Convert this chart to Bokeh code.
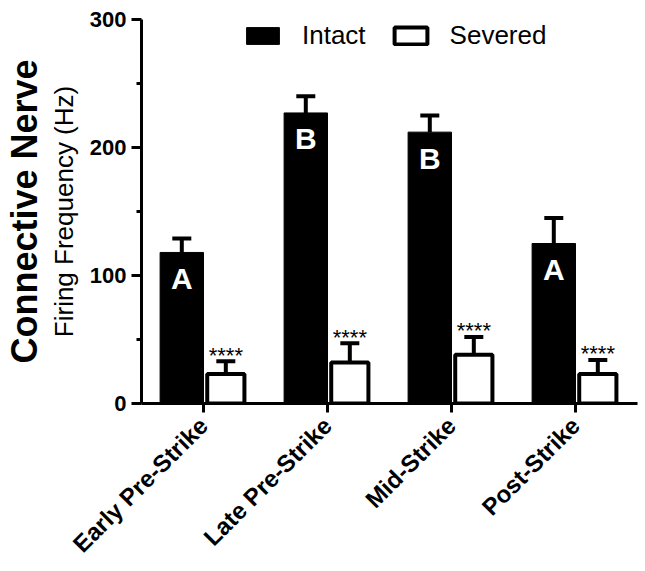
import math
from bokeh.plotting import figure
from bokeh.models import (FactorRange, Range1d, Whisker, TeeHead, ColumnDataSource,
                          Legend, LegendItem, Title, FixedTicker)
from bokeh.transform import dodge
from bokeh.core.properties import value
from bokeh.embed import file_html
from bokeh.resources import INLINE

# ---- data ----
phases = ["Early Pre-Strike", "Late Pre-Strike", "Mid-Strike", "Post-Strike"]
intact = [118, 227, 212, 125]
intact_err = [11, 13, 13, 20]
severed = [23, 32, 38, 23]
severed_err = [10, 15, 14, 11]
letters = ["A", "B", "B", "A"]
stars = ["****", "****", "****", "****"]
y_ticks = [0, 100, 200, 300]
y_minor = [50, 150, 250]

FONT = "Liberation Sans"

src = ColumnDataSource(dict(
    phase=phases,
    intact=intact,
    intact_hi=[a + b for a, b in zip(intact, intact_err)],
    severed=severed,
    severed_hi=[a + b for a, b in zip(severed, severed_err)],
    letters=letters,
    stars=stars,
))

p = figure(x_range=FactorRange(*phases, range_padding=0), y_range=Range1d(0, 300),
           width=645, height=571, output_backend="svg", toolbar_location=None,
           min_border_left=138, min_border_right=8, min_border_top=19, min_border_bottom=168)

X_I = dodge("phase", -0.175, range=p.x_range)
X_S = dodge("phase", 0.18, range=p.x_range)

r_int = p.vbar(x=X_I, top="intact", width=0.35, source=src,
               fill_color="black", line_color="black", line_width=1)
r_sev = p.vbar(x=X_S, top="severed", width=0.30, source=src,
               fill_color="white", line_color="black", line_width=4)

for base, lo, hi in ((X_I, "intact", "intact_hi"), (X_S, "severed", "severed_hi")):
    w = Whisker(base=base, lower=lo, upper=hi, source=src, dimension="height",
                line_width=4, line_color="black", level="annotation",
                upper_head=TeeHead(size=19, line_width=4, line_color="black"),
                lower_head=None)
    p.add_layout(w)

p.text(x=X_I, y="intact", text="letters", source=src, y_offset=26,
       text_align="center", text_baseline="middle", text_color="white",
       text_font=value(FONT), text_font_style="bold", text_font_size="30px")
p.text(x=X_S, y="severed_hi", text="stars", source=src, y_offset=-6,
       text_align="center", text_baseline="alphabetic", text_color="black",
       text_font=value(FONT), text_font_size="22px")

# axes
p.xgrid.visible = False
p.ygrid.visible = False
p.outline_line_color = None

ya = p.yaxis[0]
ya.ticker = FixedTicker(ticks=y_ticks, minor_ticks=y_minor)
ya.axis_line_width = 3
ya.major_tick_line_width = 3
ya.minor_tick_line_width = 3
ya.major_tick_out = 10
ya.major_tick_in = 0
ya.minor_tick_out = 5
ya.minor_tick_in = 0
ya.major_label_standoff = 5
ya.major_label_text_font = FONT
ya.major_label_text_font_style = "bold"
ya.major_label_text_font_size = "22px"
ya.major_label_text_color = "black"
ya.axis_label = "Firing Frequency (Hz)"
ya.axis_label_text_font = FONT
ya.axis_label_text_font_style = "normal"
ya.axis_label_text_font_size = "26px"
ya.axis_label_text_color = "black"
ya.axis_label_standoff = 8

xa = p.xaxis[0]
xa.axis_line_width = 3
xa.major_tick_line_width = 3
xa.major_tick_out = 9
xa.major_tick_in = 0
xa.minor_tick_line_color = None
xa.major_label_orientation = math.pi / 4
xa.major_label_standoff = 9
xa.major_label_text_font = FONT
xa.major_label_text_font_style = "bold"
xa.major_label_text_font_size = "24px"
xa.major_label_text_color = "black"

p.add_layout(Title(text="Connective Nerve", align="center", text_font=FONT,
                   text_font_style="bold", text_font_size="36px",
                   text_color="black", standoff=2), "left")

legend = Legend(items=[LegendItem(label="Intact", renderers=[r_int]),
                       LegendItem(label="Severed", renderers=[r_sev])],
                orientation="horizontal", location=(101, 352),
                glyph_width=41, glyph_height=21, label_standoff=19, spacing=24,
                padding=0, margin=0, border_line_alpha=0, background_fill_alpha=0,
                label_text_font=FONT, label_text_font_size="26px",
                label_text_color="black")
p.add_layout(legend)

open("out.html", "w").write(file_html(p, INLINE))
